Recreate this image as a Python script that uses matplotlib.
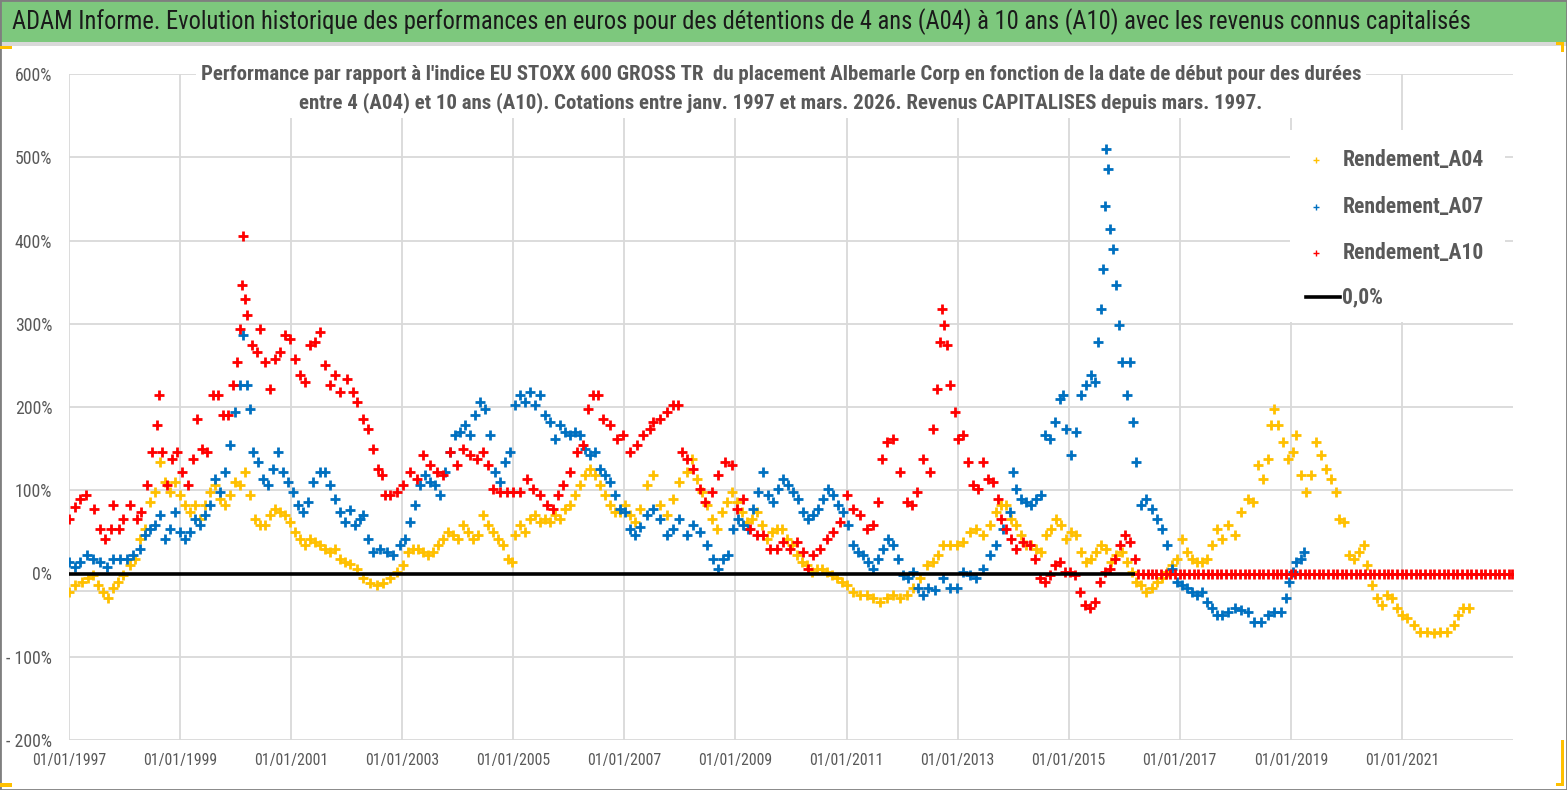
import matplotlib.pyplot as plt
from matplotlib import font_manager
from matplotlib.lines import Line2D
from matplotlib.patches import Rectangle

# pick the narrowest installed family, Calibri is not available
base_font = 'Lato'
for name in ['Liberation Sans Narrow', 'Roboto Condensed', 'Lato']:
    try:
        font_manager.findfont(font_manager.FontProperties(family=name), fallback_to_default=False)
        base_font = name
        break
    except Exception:
        pass
plt.rcParams['font.family'] = [base_font, 'DejaVu Sans']

TITLE = ("ADAM Informe. Evolution historique des performances en euros pour des détentions "
         "de 4 ans (A04) à 10 ans (A10) avec les revenus connus capitalisés")
SUBTITLE_1 = ("Performance par rapport à l'indice EU STOXX 600 GROSS TR  du placement Albemarle Corp "
              "en fonction de la date de début pour des durées")
SUBTITLE_2 = ("entre 4 (A04) et 10 ans (A10). Cotations entre janv. 1997 et mars. 2026. "
              "Revenus CAPITALISES depuis mars. 1997.")

tick_years = [1997, 1999, 2001, 2003, 2005, 2007, 2009, 2011, 2013, 2015, 2017, 2019, 2021]
y_ticks = [-200, -100, 0, 100, 200, 300, 400, 500, 600]

# (start date as decimal year, performance in %)
a04 = [
    (1997.00, -22), (1997.11, -14), (1997.23, -10), (1997.35, -6), (1997.44, -2), (1997.53, -14),
    (1997.62, -22), (1997.71, -30), (1997.80, -18), (1997.89, -10), (1997.98, -2),
    (1998.10, 10), (1998.19, 18), (1998.28, 42), (1998.37, 54), (1998.46, 86), (1998.55, 98),
    (1998.64, 134), (1998.73, 110), (1998.82, 98), (1998.91, 110),
    (1999.00, 94), (1999.09, 82), (1999.18, 74), (1999.27, 82), (1999.36, 66), (1999.45, 82),
    (1999.54, 98), (1999.63, 106), (1999.72, 90), (1999.81, 82), (1999.90, 94), (1999.99, 110),
    (2000.08, 106), (2000.17, 122), (2000.26, 94), (2000.35, 66), (2000.44, 58), (2000.53, 58),
    (2000.62, 70), (2000.71, 78), (2000.80, 74), (2000.89, 70), (2000.98, 62),
    (2001.07, 50), (2001.16, 42), (2001.25, 34), (2001.34, 42), (2001.43, 38), (2001.52, 34),
    (2001.61, 30), (2001.70, 26), (2001.79, 30), (2001.88, 18), (2001.97, 14),
    (2002.06, 12), (2002.18, 6), (2002.30, -6), (2002.42, -12), (2002.54, -14), (2002.66, -12),
    (2002.78, -6), (2002.90, 2),
    (2003.02, 10), (2003.11, 26), (2003.20, 30), (2003.29, 30), (2003.38, 26), (2003.47, 22),
    (2003.56, 26), (2003.65, 34), (2003.74, 42), (2003.83, 50), (2003.92, 46),
    (2004.01, 42), (2004.10, 58), (2004.19, 50), (2004.28, 42), (2004.37, 46), (2004.46, 70),
    (2004.55, 58), (2004.64, 50), (2004.73, 42), (2004.82, 34), (2004.91, 18), (2004.97, 14),
    (2005.03, 46), (2005.12, 58), (2005.21, 50), (2005.30, 66), (2005.39, 70), (2005.48, 62),
    (2005.57, 66), (2005.66, 62), (2005.75, 70), (2005.84, 66), (2005.93, 78),
    (2006.02, 82), (2006.11, 94), (2006.20, 106), (2006.29, 118), (2006.38, 126), (2006.47, 118),
    (2006.56, 106), (2006.65, 94), (2006.74, 82), (2006.83, 74), (2006.92, 74),
    (2007.01, 82), (2007.10, 70), (2007.19, 62), (2007.28, 78), (2007.40, 106), (2007.52, 118),
    (2007.64, 82), (2007.76, 70), (2007.88, 90), (2007.99, 110),
    (2008.12, 122), (2008.21, 138), (2008.30, 114), (2008.39, 98), (2008.48, 82), (2008.57, 66),
    (2008.66, 54), (2008.75, 74), (2008.84, 86), (2008.93, 98),
    (2009.02, 86), (2009.11, 74), (2009.20, 62), (2009.29, 66), (2009.38, 74), (2009.47, 58),
    (2009.56, 42), (2009.65, 50), (2009.74, 54), (2009.83, 54), (2009.92, 42),
    (2010.01, 34), (2010.10, 22), (2010.19, 14), (2010.28, 10), (2010.37, 2), (2010.46, 6),
    (2010.55, 6), (2010.64, 2), (2010.73, -2), (2010.82, -6), (2010.91, -10),
    (2011.00, -14), (2011.12, -22), (2011.24, -26), (2011.36, -26), (2011.48, -30), (2011.60, -34),
    (2011.72, -30), (2011.84, -26), (2011.96, -30),
    (2012.08, -26), (2012.20, -18), (2012.32, -6), (2012.44, 10), (2012.56, 14), (2012.65, 22),
    (2012.74, 34), (2012.86, 34), (2012.98, 34),
    (2013.10, 38), (2013.22, 50), (2013.34, 54), (2013.46, 46), (2013.58, 58), (2013.70, 74),
    (2013.79, 82), (2013.88, 82), (2013.97, 66),
    (2014.06, 58), (2014.15, 46), (2014.24, 34), (2014.33, 34), (2014.42, 30), (2014.51, 26),
    (2014.60, 46), (2014.69, 54), (2014.78, 66), (2014.87, 58), (2014.96, 42),
    (2015.05, 50), (2015.14, 46), (2015.23, 26), (2015.32, 14), (2015.41, 18), (2015.50, 26),
    (2015.59, 34), (2015.68, 30), (2015.77, 14), (2015.86, 22), (2015.96, 26),
    (2016.05, 14), (2016.14, 2), (2016.22, -10), (2016.31, -14), (2016.40, -22), (2016.50, -18),
    (2016.59, -10), (2016.68, -6), (2016.77, 2), (2016.86, 10), (2016.95, 18),
    (2017.04, 42), (2017.13, 26), (2017.22, 18), (2017.31, 14), (2017.40, 14), (2017.49, 18),
    (2017.58, 34), (2017.67, 54), (2017.76, 42), (2017.87, 58), (2017.99, 46),
    (2018.10, 74), (2018.22, 90), (2018.31, 86), (2018.40, 130), (2018.49, 114), (2018.58, 138),
    (2018.64, 178), (2018.70, 198), (2018.76, 178), (2018.85, 158), (2018.94, 138),
    (2019.03, 146), (2019.09, 166), (2019.18, 118), (2019.27, 98), (2019.36, 118), (2019.45, 158),
    (2019.54, 142), (2019.63, 126), (2019.72, 114), (2019.81, 98), (2019.87, 66), (2019.96, 62),
    (2020.04, 22), (2020.13, 18), (2020.22, 26), (2020.31, 34), (2020.37, 10), (2020.46, -14),
    (2020.55, -30), (2020.64, -38), (2020.73, -26), (2020.82, -30), (2020.91, -42),
    (2021.00, -50), (2021.09, -54), (2021.21, -62), (2021.33, -70), (2021.45, -70), (2021.57, -72),
    (2021.69, -70), (2021.81, -70), (2021.93, -62),
    (2022.01, -50), (2022.10, -42), (2022.20, -42),
]

a07 = [
    (1997.00, 14), (1997.11, 8), (1997.20, 14), (1997.32, 22), (1997.44, 18), (1997.56, 14),
    (1997.68, 8), (1997.80, 18), (1997.92, 18),
    (1998.04, 18), (1998.16, 22), (1998.28, 30), (1998.37, 46), (1998.46, 54), (1998.55, 58),
    (1998.64, 70), (1998.73, 42), (1998.82, 54), (1998.91, 74),
    (1999.00, 50), (1999.09, 42), (1999.18, 50), (1999.27, 66), (1999.36, 58), (1999.45, 70),
    (1999.54, 82), (1999.63, 114), (1999.72, 98), (1999.81, 122), (1999.90, 154), (1999.99, 194),
    (2000.08, 226), (2000.14, 286), (2000.20, 226), (2000.26, 198), (2000.32, 146), (2000.41, 134),
    (2000.50, 114), (2000.59, 106), (2000.68, 126), (2000.77, 146), (2000.86, 122), (2000.95, 110),
    (2001.04, 98), (2001.13, 82), (2001.22, 74), (2001.31, 86), (2001.40, 110), (2001.52, 122),
    (2001.61, 122), (2001.70, 106), (2001.79, 90), (2001.88, 74), (2001.97, 62),
    (2002.06, 76), (2002.15, 58), (2002.24, 66), (2002.30, 70), (2002.39, 42), (2002.48, 26),
    (2002.60, 30), (2002.72, 26), (2002.84, 22), (2002.96, 34),
    (2003.05, 42), (2003.14, 62), (2003.23, 82), (2003.32, 106), (2003.41, 118), (2003.50, 110),
    (2003.59, 106), (2003.68, 94), (2003.77, 122), (2003.86, 146), (2003.95, 166),
    (2004.04, 170), (2004.13, 178), (2004.22, 166), (2004.31, 190), (2004.40, 206), (2004.49, 198),
    (2004.58, 166), (2004.67, 122), (2004.76, 110), (2004.85, 134), (2004.94, 146),
    (2005.03, 202), (2005.12, 214), (2005.21, 206), (2005.30, 218), (2005.39, 202), (2005.48, 214),
    (2005.57, 190), (2005.66, 182), (2005.75, 162), (2005.84, 178), (2005.93, 170),
    (2006.02, 166), (2006.11, 170), (2006.20, 166), (2006.29, 150), (2006.38, 142), (2006.47, 146),
    (2006.56, 126), (2006.65, 118), (2006.74, 110), (2006.83, 94), (2006.92, 78),
    (2007.01, 74), (2007.10, 54), (2007.19, 46), (2007.28, 56), (2007.40, 70), (2007.52, 78),
    (2007.64, 66), (2007.76, 46), (2007.88, 54), (2007.99, 66),
    (2008.12, 46), (2008.24, 58), (2008.36, 50), (2008.48, 34), (2008.60, 18), (2008.69, 6),
    (2008.78, 18), (2008.87, 22), (2008.96, 54),
    (2009.05, 66), (2009.14, 58), (2009.23, 54), (2009.32, 78), (2009.41, 98), (2009.50, 122),
    (2009.59, 94), (2009.68, 86), (2009.77, 102), (2009.86, 114), (2009.95, 106),
    (2010.04, 98), (2010.13, 90), (2010.22, 74), (2010.31, 66), (2010.40, 70), (2010.49, 78),
    (2010.58, 90), (2010.67, 102), (2010.76, 94), (2010.85, 82), (2010.94, 74),
    (2011.03, 58), (2011.12, 34), (2011.21, 26), (2011.30, 22), (2011.39, 14), (2011.48, 6),
    (2011.57, 18), (2011.66, 30), (2011.75, 42), (2011.84, 34), (2011.93, 18),
    (2012.02, -2), (2012.11, -6), (2012.20, 2), (2012.29, -18), (2012.38, -26), (2012.47, -18),
    (2012.59, -20), (2012.74, -6), (2012.86, -18), (2012.98, -18),
    (2013.10, 2), (2013.22, -2), (2013.34, -6), (2013.46, 6), (2013.58, 22), (2013.70, 34),
    (2013.82, 54), (2013.94, 74),
    (2014.00, 122), (2014.06, 102), (2014.15, 90), (2014.24, 86), (2014.33, 82), (2014.42, 90),
    (2014.51, 94), (2014.57, 166), (2014.66, 162), (2014.75, 182), (2014.84, 210), (2014.90, 214),
    (2014.96, 174),
    (2015.05, 142), (2015.14, 170), (2015.23, 214), (2015.32, 226), (2015.41, 238), (2015.47, 230),
    (2015.53, 278), (2015.58, 318), (2015.61, 366), (2015.65, 442), (2015.68, 510), (2015.70, 486),
    (2015.74, 414), (2015.80, 390), (2015.85, 346), (2015.90, 298), (2015.96, 254),
    (2016.05, 214), (2016.10, 254), (2016.16, 182), (2016.22, 134), (2016.31, 82), (2016.40, 90),
    (2016.50, 78), (2016.59, 66), (2016.68, 54), (2016.77, 34), (2016.86, 6), (2016.95, -10),
    (2017.04, -14), (2017.13, -18), (2017.22, -22), (2017.31, -26), (2017.40, -22), (2017.49, -34),
    (2017.58, -42), (2017.67, -50), (2017.76, -50), (2017.87, -46), (2017.99, -42),
    (2018.10, -44), (2018.22, -46), (2018.34, -58), (2018.46, -58), (2018.58, -50), (2018.70, -46),
    (2018.82, -46), (2018.91, -30), (2018.97, -10),
    (2019.03, 2), (2019.09, 14), (2019.18, 18), (2019.24, 26),
]

a10 = [
    (1997.00, 66), (1997.10, 80), (1997.20, 90), (1997.30, 94), (1997.45, 78), (1997.55, 54),
    (1997.65, 42), (1997.75, 54), (1997.80, 82), (1997.90, 54), (1997.98, 66),
    (1998.10, 82), (1998.22, 66), (1998.30, 74), (1998.40, 106), (1998.50, 146), (1998.58, 178),
    (1998.62, 214), (1998.67, 146), (1998.76, 106), (1998.85, 138), (1998.94, 146),
    (1999.03, 122), (1999.15, 106), (1999.24, 138), (1999.30, 186), (1999.39, 150), (1999.48, 146),
    (1999.60, 214), (1999.69, 214), (1999.78, 190), (1999.87, 190), (1999.96, 226),
    (2000.02, 254), (2000.08, 294), (2000.12, 346), (2000.14, 406), (2000.17, 330), (2000.20, 310),
    (2000.29, 274), (2000.38, 266), (2000.44, 294), (2000.53, 254), (2000.62, 222), (2000.71, 258),
    (2000.80, 266), (2000.89, 286), (2000.98, 282),
    (2001.07, 258), (2001.16, 238), (2001.25, 230), (2001.34, 274), (2001.43, 278), (2001.52, 290),
    (2001.61, 250), (2001.70, 226), (2001.79, 238), (2001.88, 218),
    (2002.00, 234), (2002.12, 218), (2002.18, 206), (2002.30, 186), (2002.39, 174), (2002.48, 150),
    (2002.57, 126), (2002.63, 118), (2002.69, 94), (2002.78, 94), (2002.90, 98),
    (2003.02, 106), (2003.14, 122), (2003.26, 114), (2003.38, 142), (2003.50, 130), (2003.62, 122),
    (2003.74, 118), (2003.86, 146), (2003.98, 130),
    (2004.10, 150), (2004.22, 142), (2004.34, 138), (2004.46, 146), (2004.55, 130), (2004.64, 102),
    (2004.76, 98), (2004.88, 98),
    (2005.00, 98), (2005.12, 98), (2005.24, 114), (2005.36, 102), (2005.48, 94), (2005.60, 82),
    (2005.72, 78), (2005.81, 94), (2005.90, 106),
    (2006.02, 122), (2006.14, 146), (2006.26, 154), (2006.35, 198), (2006.44, 214), (2006.53, 214),
    (2006.62, 186), (2006.74, 178), (2006.86, 162), (2006.98, 166),
    (2007.10, 146), (2007.22, 154), (2007.34, 166), (2007.46, 174), (2007.52, 182), (2007.64, 186),
    (2007.76, 194), (2007.88, 202), (2007.97, 202),
    (2008.03, 146), (2008.12, 138), (2008.24, 126), (2008.36, 102), (2008.45, 86), (2008.57, 98),
    (2008.69, 118), (2008.81, 134), (2008.93, 130),
    (2009.02, 78), (2009.14, 90), (2009.26, 54), (2009.38, 46), (2009.50, 46), (2009.62, 30),
    (2009.74, 30), (2009.86, 38), (2009.98, 30),
    (2010.10, 38), (2010.22, 26), (2010.31, 6), (2010.40, 22), (2010.52, 30), (2010.64, 42),
    (2010.76, 50), (2010.88, 62),
    (2011.00, 94), (2011.12, 78), (2011.24, 70), (2011.36, 54), (2011.48, 58), (2011.57, 86),
    (2011.63, 138), (2011.72, 158), (2011.84, 162), (2011.96, 122),
    (2012.08, 86), (2012.17, 82), (2012.26, 98), (2012.38, 138), (2012.50, 122), (2012.56, 174),
    (2012.62, 222), (2012.68, 278), (2012.72, 318), (2012.76, 298), (2012.80, 274), (2012.86, 226),
    (2012.95, 194),
    (2013.01, 162), (2013.10, 166), (2013.19, 134), (2013.28, 106), (2013.37, 102), (2013.46, 134),
    (2013.55, 114), (2013.64, 110), (2013.73, 90), (2013.79, 66), (2013.88, 54), (2013.97, 42),
    (2014.06, 30), (2014.18, 38), (2014.30, 34), (2014.39, 18), (2014.48, -6), (2014.57, -10),
    (2014.66, -2), (2014.75, 10), (2014.85, 14), (2014.94, 2),
    (2015.03, 2), (2015.12, -2), (2015.20, -22), (2015.29, -38), (2015.38, -42), (2015.47, -34),
    (2015.56, -10), (2015.65, 2), (2015.74, 6), (2015.83, 18), (2015.92, 34),
    (2016.02, 46), (2016.10, 38), (2016.20, 18),
]

# A10 after mid-2016: no 10-year window yet, the sheet plots 0 %
a10_tail = [
    (2016.25, 0), (2016.33, 0), (2016.42, 0), (2016.50, 0), (2016.58, 0), (2016.67, 0),
    (2016.75, 0), (2016.83, 0), (2016.92, 0),
    (2017.00, 0), (2017.08, 0), (2017.17, 0), (2017.25, 0), (2017.33, 0), (2017.42, 0),
    (2017.50, 0), (2017.58, 0), (2017.67, 0), (2017.75, 0), (2017.83, 0), (2017.92, 0),
    (2018.00, 0), (2018.08, 0), (2018.17, 0), (2018.25, 0), (2018.33, 0), (2018.42, 0),
    (2018.50, 0), (2018.58, 0), (2018.67, 0), (2018.75, 0), (2018.83, 0), (2018.92, 0),
    (2019.00, 0), (2019.08, 0), (2019.17, 0), (2019.25, 0), (2019.33, 0), (2019.42, 0),
    (2019.50, 0), (2019.58, 0), (2019.67, 0), (2019.75, 0), (2019.83, 0), (2019.92, 0),
    (2020.00, 0), (2020.08, 0), (2020.17, 0), (2020.25, 0), (2020.33, 0), (2020.42, 0),
    (2020.50, 0), (2020.58, 0), (2020.67, 0), (2020.75, 0), (2020.83, 0), (2020.92, 0),
    (2021.00, 0), (2021.08, 0), (2021.17, 0), (2021.25, 0), (2021.33, 0), (2021.42, 0),
    (2021.50, 0), (2021.58, 0), (2021.67, 0), (2021.75, 0), (2021.83, 0), (2021.92, 0),
    (2022.00, 0), (2022.08, 0), (2022.17, 0), (2022.25, 0), (2022.33, 0), (2022.42, 0),
    (2022.50, 0), (2022.58, 0), (2022.67, 0), (2022.75, 0), (2022.83, 0), (2022.92, 0),
    (2022.98, 0),
]

zero_line = [(1997.0, 0.0), (2016.2, 0.0)]

series = [
    ('Rendement_A04', a04, '#FFC000'),
    ('Rendement_A07', a07, '#0070C0'),
    ('Rendement_A10', a10 + a10_tail, '#FF0000'),
]

W, H = 1567, 790
GREY_TXT = '#595959'

fig = plt.figure(figsize=(W / 100, H / 100), dpi=100)
fig.canvas.draw()
renderer = fig.canvas.get_renderer()


def size_for(text, width_px, weight='normal'):
    # font size (pt) that makes `text` span width_px pixels
    t = fig.text(0, 0, text, fontsize=10, fontweight=weight)
    w = t.get_window_extent(renderer=renderer).width
    t.remove()
    return 10 * width_px / w


def fx(px):
    return px / W


def fy(py):
    return 1 - py / H


# frame, title band and the little excel handles
fig.patches.append(Rectangle((0, fy(42)), 1, 42 / H, transform=fig.transFigure,
                             facecolor='#7DC87D', edgecolor='none', zorder=0))
fig.patches.append(Rectangle((0, fy(46)), 1, 4 / H, transform=fig.transFigure,
                             facecolor='#D9D9D9', edgecolor='none', zorder=0))
fig.patches.append(Rectangle((0, 0), 1, 1, transform=fig.transFigure, fill=False,
                             edgecolor='#7F7F7F', linewidth=2, zorder=5))
for (x0, y0, w, h) in [(0, 46, 12, 3), (1556, 42, 8, 3), (1561, 42, 3, 10),
                       (0, 783, 12, 4), (1556, 783, 8, 3), (1561, 740, 3, 45)]:
    fig.patches.append(Rectangle((fx(x0), fy(y0 + h)), w / W, h / H, transform=fig.transFigure,
                                 facecolor='#FFC000', edgecolor='none', zorder=6))

fig.text(fx(12), fy(22), TITLE, ha='left', va='center', color='#1A1A1A',
         fontsize=size_for(TITLE, 1450))

# plot area
ax = fig.add_axes([fx(69), fy(740), (1513 - 69) / W, (740 - 74) / H])
for spine in ax.spines.values():
    spine.set_visible(False)
ax.set_xlim(1997, 2023)
ax.set_ylim(-200, 600)
ax.set_xticks(tick_years)
ax.set_xticklabels([f'01/01/{y}' for y in tick_years])
ax.set_yticks(y_ticks)
ax.set_yticklabels([f'{v}%' if v >= 0 else f'- {-v}%' for v in y_ticks])
ax.tick_params(length=0, colors=GREY_TXT)
ax.tick_params(axis='x', pad=9, labelsize=size_for('01/01/1997', 74))
ax.tick_params(axis='y', pad=12, labelsize=size_for('600%', 37))
ax.grid(True, color='#D9D9D9', linewidth=1.3, zorder=0)
ax.axhline(-21, color='#D9D9D9', linewidth=1.3, zorder=0)
ax.set_axisbelow(True)

for label, pts, color in series:
    xs = [p[0] for p in pts]
    ys = [p[1] for p in pts]
    ax.plot(xs, ys, linestyle='none', marker='+', markersize=6.5, markeredgewidth=2.0,
            color=color, label=label, zorder=3)

ax.plot([p[0] for p in zero_line], [p[1] for p in zero_line], color='black',
        linewidth=2.6, solid_capstyle='butt', zorder=4, label='0,0%')

# chart subtitle on a white box
fig.patches.append(Rectangle((fx(196), fy(118)), (1366 - 196) / W, 56 / H,
                             transform=fig.transFigure, facecolor='white',
                             edgecolor='none', zorder=2))
sub_size = size_for(SUBTITLE_1, 1162, 'bold')
fig.text(fx(781), fy(75), SUBTITLE_1, ha='center', va='center', fontsize=sub_size,
         fontweight='bold', color=GREY_TXT, zorder=3)
fig.text(fx(781), fy(103), SUBTITLE_2, ha='center', va='center', fontsize=sub_size,
         fontweight='bold', color=GREY_TXT, zorder=3)

# legend drawn by hand to sit exactly where excel put it
fig.patches.append(Rectangle((fx(1290), fy(322)), 215 / W, 192 / H, transform=fig.transFigure,
                             facecolor='white', edgecolor='none', zorder=2))
leg_size = size_for('Rendement_A04', 141, 'bold')
for (label, pts, color), row_y in zip(series, [160, 207, 253]):
    fig.add_artist(Line2D([fx(1316)], [fy(row_y)], marker='+', markersize=5,
                          markeredgewidth=1.0, color=color, linestyle='none', zorder=3))
    fig.text(fx(1343), fy(row_y), label, ha='left', va='center', fontsize=leg_size,
             fontweight='bold', color=GREY_TXT, zorder=3)
fig.add_artist(Line2D([fx(1306), fx(1340)], [fy(297), fy(297)], color='black',
                      linewidth=2.6, zorder=3))
fig.text(fx(1342), fy(297), '0,0%', ha='left', va='center', fontsize=leg_size,
         fontweight='bold', color=GREY_TXT, zorder=3)

fig.savefig('out.png', dpi=100)
plt.close(fig)
